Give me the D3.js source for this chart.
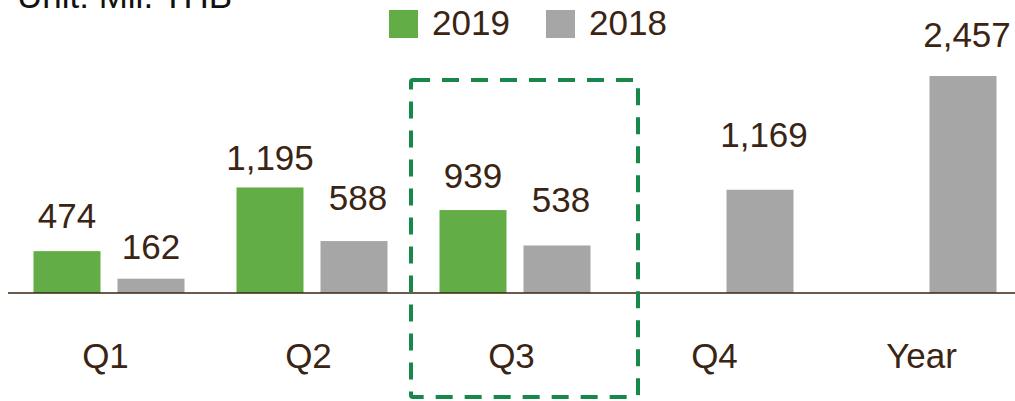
<!DOCTYPE html>
<html>
<head>
<meta charset="utf-8">
<script src="https://cdn.jsdelivr.net/npm/d3@7"></script>
<style>
  html, body { margin: 0; padding: 0; background: #fff; }
  svg { display: block; }
  text { font-family: "Liberation Sans", Arial, Helvetica, sans-serif; fill: #3a2414; }
</style>
</head>
<body>
<script>
// chart data
var categories = ["Q1", "Q2", "Q3", "Q4", "Year"];
var seriesNames = ["2019", "2018"];
var values2019 = [474, 1195, 939, null, null];
var values2018 = [162, 588, 538, 1169, 2457];
var highlight = "Q3";

// label lift above each bar top (the source placed these by hand)
var lift2019 = [23, 17, 22, 0, 0];
var lift2018 = [20, 31, 33, 43, 29];

var colors = { "2019": "#62ad46", "2018": "#a6a6a6" };

var width = 1015, height = 401;

var svg = d3.select("body").append("svg")
    .attr("width", width)
    .attr("height", height);

var x = d3.scaleBand()
    .domain(categories)
    .range([8, 1023]);

var y = d3.scaleLinear()
    .domain([0, d3.max(values2018.concat(values2019))])
    .range([293, 76]);

// two bars inside each category
var xs = d3.scaleBand()
    .domain(seriesNames)
    .range([0, 151])
    .paddingInner(17 / 84);

var rows = [];
categories.forEach(function(c, i) {
  rows.push({ cat: c, series: "2019", value: values2019[i], lift: lift2019[i] });
  rows.push({ cat: c, series: "2018", value: values2018[i], lift: lift2018[i] });
});
rows = rows.filter(function(d) { return d.value != null; });

var barX = function(d) { return x(d.cat) + x.bandwidth() / 2 - 76 + xs(d.series); };

svg.selectAll("rect.bar")
    .data(rows)
  .enter().append("rect")
    .attr("class", "bar")
    .attr("x", barX)
    .attr("y", function(d) { return y(d.value); })
    .attr("width", xs.bandwidth())
    .attr("height", function(d) { return y(0) - y(d.value); })
    .attr("fill", function(d) { return colors[d.series]; });

// value labels
svg.selectAll("text.val")
    .data(rows)
  .enter().append("text")
    .attr("class", "val")
    .attr("x", function(d) { return barX(d) + xs.bandwidth() / 2 + (d.series === "2018" && d.value > 200 ? 4 : 0); })
    .attr("y", function(d) { return y(d.value) - d.lift; })
    .attr("text-anchor", "middle")
    .style("font-size", "35px")
    .text(function(d) { return d3.format(",")(d.value); });

// baseline
svg.append("line")
    .attr("x1", 8).attr("x2", width)
    .attr("y1", y(0)).attr("y2", y(0))
    .attr("stroke", "#3a2414")
    .attr("stroke-width", 1.5);

// category labels
svg.selectAll("text.cat")
    .data(categories)
  .enter().append("text")
    .attr("class", "cat")
    .attr("x", function(d) { return x(d) + x.bandwidth() / 2 - (d === "Year" ? 0 : 4); })
    .attr("y", 368)
    .attr("text-anchor", "middle")
    .style("font-size", "35px")
    .text(function(d) { return d; });

// dashed highlight box round Q3
var hx = x(highlight) + x.bandwidth() / 2;
svg.append("rect")
    .attr("x", hx - 104.5)
    .attr("y", 80)
    .attr("width", 227)
    .attr("height", 317)
    .attr("rx", 2)
    .attr("fill", "none")
    .attr("stroke", "#17874a")
    .attr("stroke-width", 4)
    .attr("stroke-dasharray", "17,12");

// legend
var legend = svg.selectAll("g.legend")
    .data(seriesNames)
  .enter().append("g")
    .attr("class", "legend")
    .attr("transform", function(d, i) { return "translate(" + (389 + i * 157) + ",10)"; });

legend.append("rect")
    .attr("width", 29).attr("height", 28)
    .attr("fill", function(d) { return colors[d]; });

legend.append("text")
    .attr("x", 43).attr("y", 25)
    .style("font-size", "35px")
    .text(function(d) { return d; });

// unit note, clipped at the top like the source
svg.append("text")
    .attr("x", 17).attr("y", 8)
    .style("font-size", "35px")
    .style("fill", "#111")
    .text("Unit: Mil. THB");
</script>
</body>
</html>
